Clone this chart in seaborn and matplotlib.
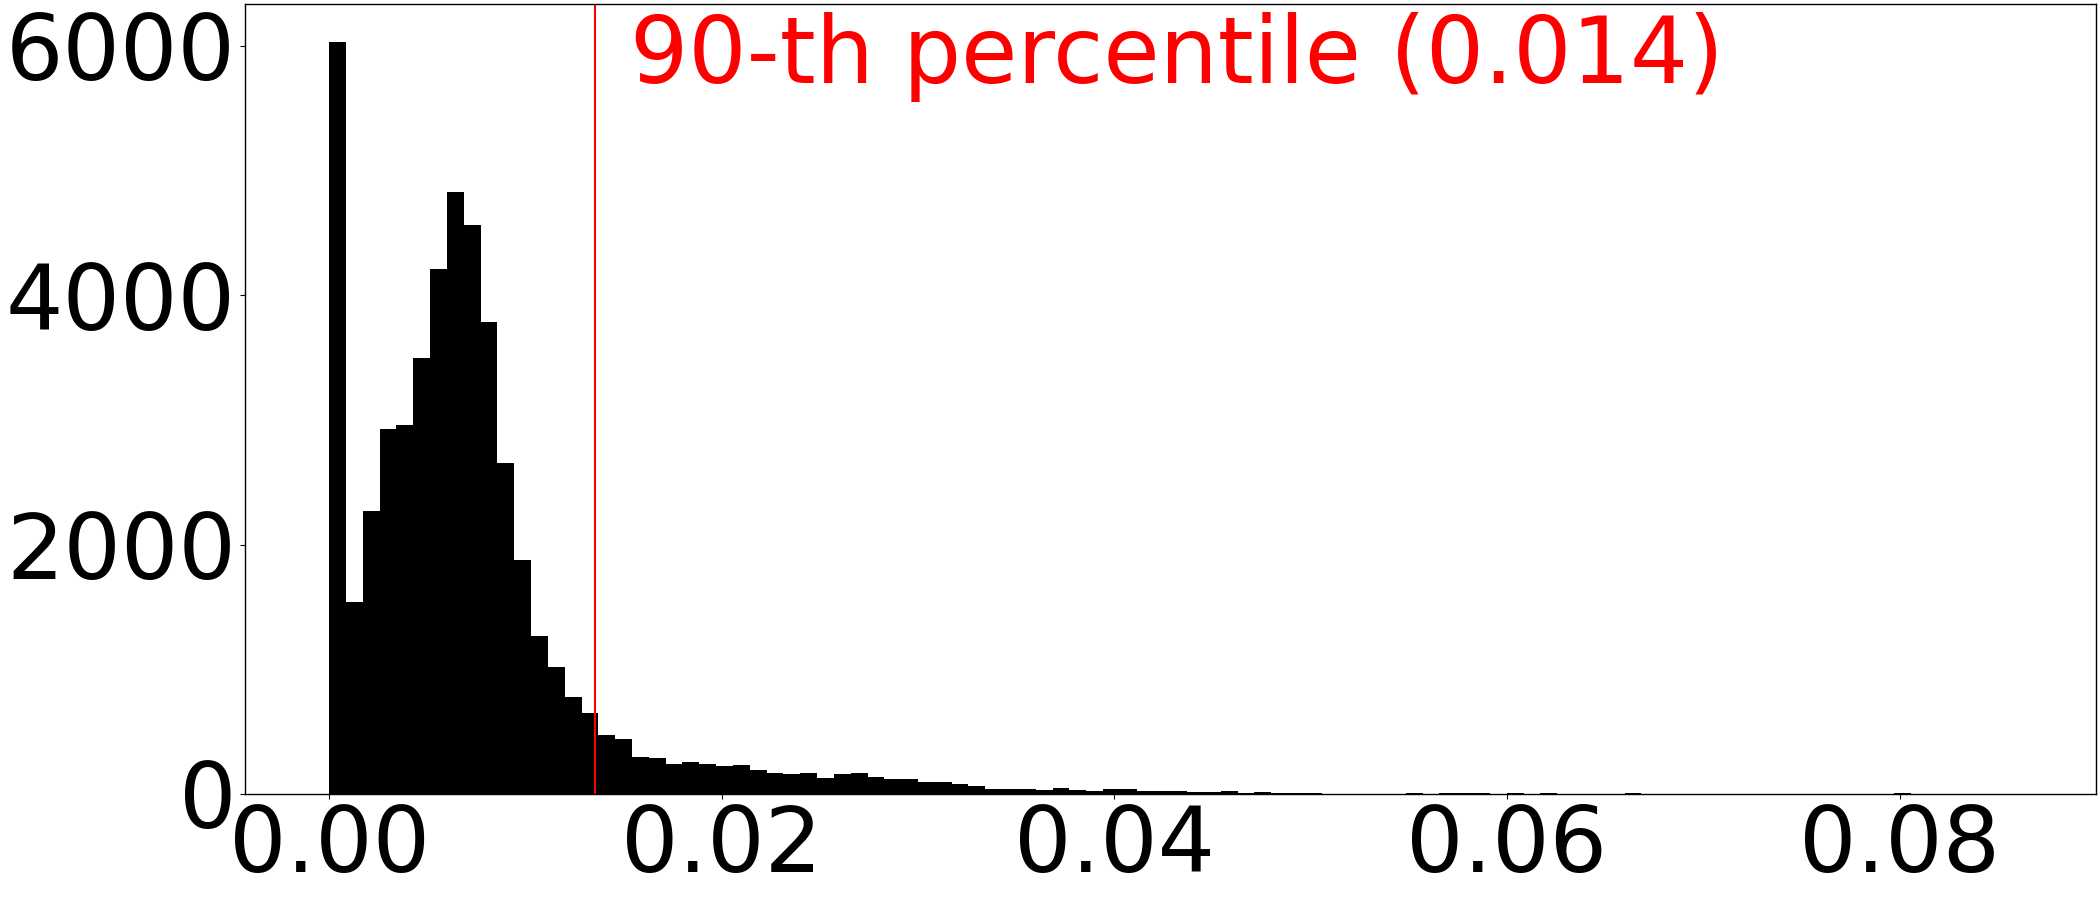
import numpy as np
import pandas as pd
import matplotlib
matplotlib.use("Agg")
import matplotlib.pyplot as plt
import seaborn as sns

# ---- data: 100 equal bins over [0, DATA_MAX] ----
DATA_MAX = 0.0857
N_BINS = 100
counts = [
    6033, 1542, 2270, 2928, 2957, 3498, 4209, 4830, 4565, 3784,
    2655, 1873, 1269, 1021, 781, 650, 476, 438, 294, 286,
    238, 254, 243, 222, 230, 190, 166, 158, 166, 126,
    158, 166, 134, 118, 118, 94, 94, 77, 61, 37,
    37, 37, 29, 45, 29, 21, 37, 37, 21, 21,
    21, 13, 13, 21, 5, 13, 10, 10, 10, 3,
    3, 3, 3, 3, 8, 3, 8, 8, 8, 3,
    8, 3, 8, 3, 3, 3, 3, 8, 2, 2,
    2, 2, 2, 2, 2, 2, 2, 2, 2, 2,
    2, 2, 2, 6, 1, 1, 1, 1, 1, 1,
]
percentile_90 = 0.01353
label_text = "90-th percentile (0.014)"

edges = np.linspace(0, DATA_MAX, N_BINS + 1)
centers = (edges[:-1] + edges[1:]) / 2
df = pd.DataFrame({"value": centers, "count": counts})

fig = plt.figure(figsize=(21, 9), dpi=100)
ax = fig.add_axes([0.1167, 0.1178, 0.8812, 0.8778])

sns.histplot(data=df, x="value", weights="count", bins=N_BINS,
             binrange=(0, DATA_MAX), color="black", alpha=1.0,
             linewidth=0, ax=ax)

ax.axvline(percentile_90, color="red", linewidth=1.5)
ax.text(0.01533, 5700, label_text, color="red", fontsize=66,
        va="baseline", ha="left")

ax.set_xlabel("")
ax.set_ylabel("")
ax.set_xticks([0.0, 0.02, 0.04, 0.06, 0.08])
ax.set_xticklabels(["0.00", "0.02", "0.04", "0.06", "0.08"])
ax.set_yticks([0, 2000, 4000, 6000])
ax.tick_params(labelsize=65, pad=3)
for s in ax.spines.values():
    s.set_linewidth(1.0)
    s.set_color("black")

fig.savefig("out.png", dpi=100)
